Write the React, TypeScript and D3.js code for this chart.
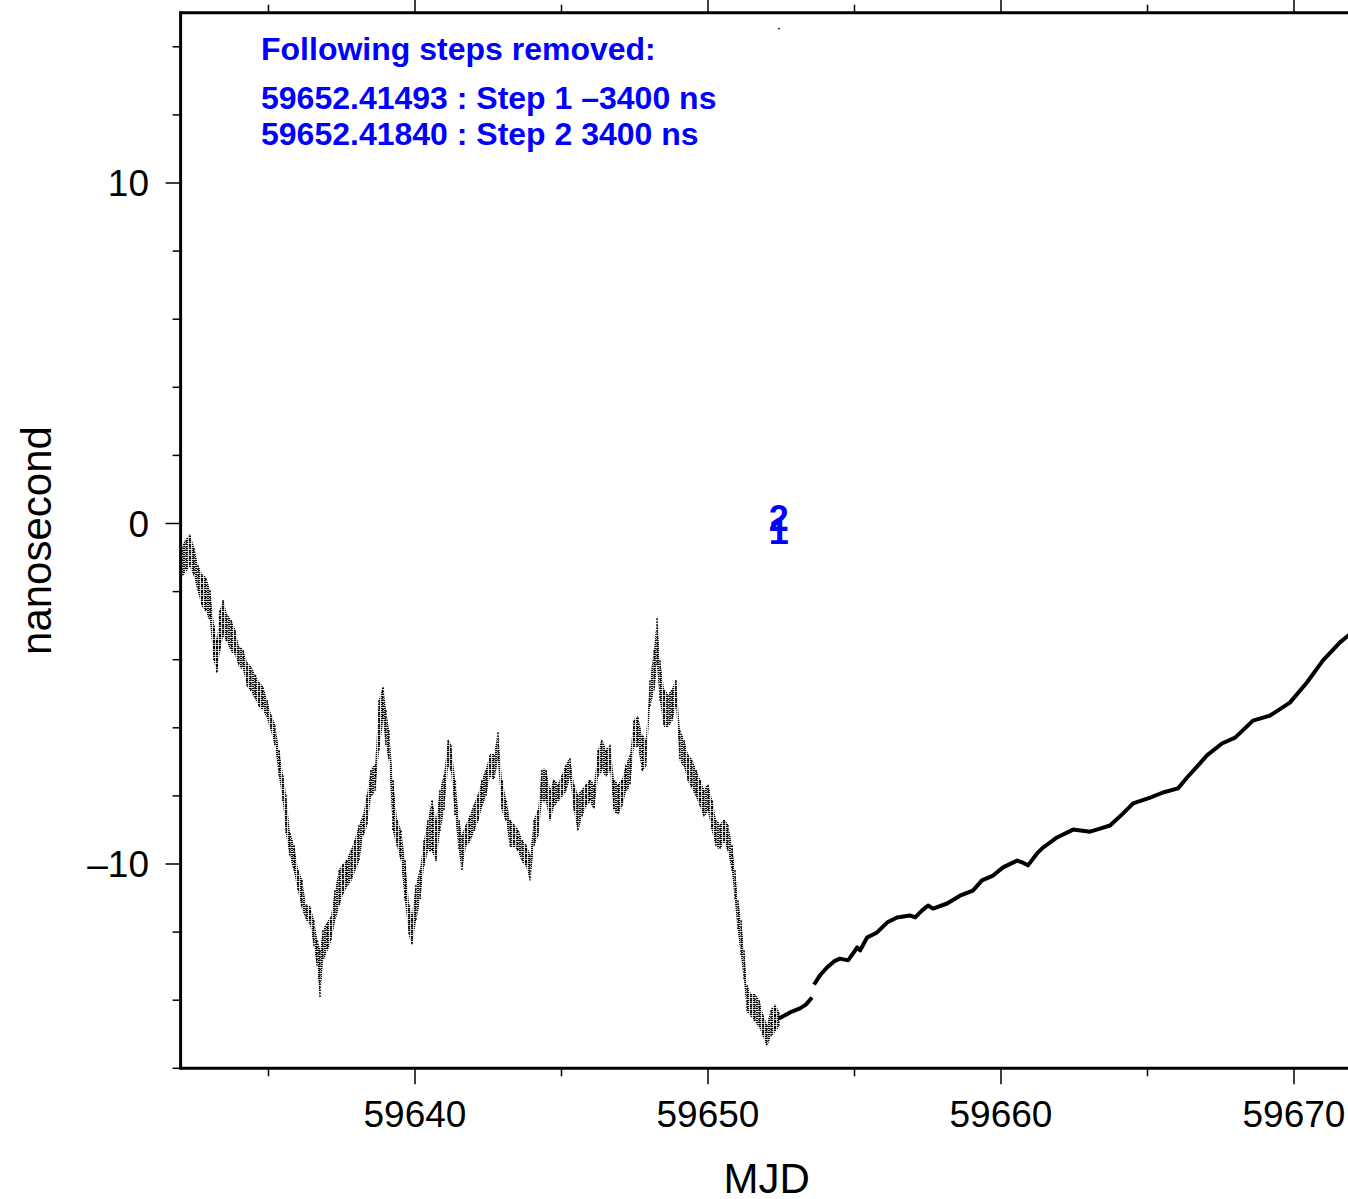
// @ts-nocheck
import React, { useEffect, useRef } from 'react'
import * as d3 from 'd3'

// noisy clock offset before the steps: sample MJD, upper and lower edge of the point cloud (ns)
const noisyMjd = [
    59632.05, 59632.18, 59632.32, 59632.46, 59632.59, 59632.73, 59632.87, 59633.00, 59633.14, 59633.24,
    59633.34, 59633.45, 59633.58, 59633.72, 59633.86, 59633.99, 59634.13, 59634.27, 59634.40, 59634.54,
    59634.68, 59634.81, 59634.95, 59635.09, 59635.22, 59635.36, 59635.49, 59635.60, 59635.73, 59635.87,
    59636.01, 59636.14, 59636.28, 59636.42, 59636.55, 59636.66, 59636.76, 59636.86, 59637.00, 59637.13,
    59637.27, 59637.41, 59637.54, 59637.68, 59637.82, 59637.95, 59638.09, 59638.23, 59638.36, 59638.50,
    59638.64, 59638.77, 59638.91, 59639.01, 59639.11, 59639.25, 59639.39, 59639.52, 59639.66, 59639.80,
    59639.90, 59640.03, 59640.17, 59640.31, 59640.44, 59640.58, 59640.72, 59640.85, 59640.99, 59641.13,
    59641.23, 59641.37, 59641.50, 59641.60, 59641.74, 59641.88, 59642.01, 59642.15, 59642.29, 59642.42,
    59642.56, 59642.70, 59642.83, 59642.97, 59643.11, 59643.24, 59643.38, 59643.52, 59643.65, 59643.79,
    59643.93, 59644.06, 59644.20, 59644.33, 59644.47, 59644.61, 59644.74, 59644.88, 59645.02, 59645.15,
    59645.29, 59645.43, 59645.56, 59645.70, 59645.84, 59645.97, 59646.11, 59646.25, 59646.38, 59646.52,
    59646.66, 59646.79, 59646.93, 59647.07, 59647.20, 59647.34, 59647.47, 59647.61, 59647.75, 59647.88,
    59648.02, 59648.16, 59648.26, 59648.36, 59648.50, 59648.64, 59648.77, 59648.91, 59649.04, 59649.18,
    59649.32, 59649.45, 59649.59, 59649.73, 59649.86, 59650.00, 59650.14, 59650.27, 59650.41, 59650.55,
    59650.68, 59650.82, 59650.92, 59651.02, 59651.13, 59651.23, 59651.33, 59651.47, 59651.60, 59651.74,
    59651.88, 59652.01, 59652.15, 59652.29, 59652.42
]
const noisyHi = [
    -0.70, -0.50, -0.35, -0.73, -1.23, -1.53, -1.62, -1.97, -3.00, -3.44,
    -2.56, -2.26, -2.70, -2.85, -3.14, -3.64, -3.73, -4.11, -4.23, -4.46,
    -4.70, -4.82, -5.20, -5.64, -5.93, -6.67, -7.40, -7.99, -9.10, -9.46,
    -10.19, -10.48, -11.22, -11.28, -11.66, -12.25, -12.54, -11.95, -11.75, -11.57,
    -10.78, -10.19, -10.04, -9.90, -9.60, -9.31, -8.87, -8.58, -7.99, -7.25,
    -7.11, -5.20, -4.82, -5.49, -6.08, -7.55, -8.72, -9.02, -9.90, -11.22,
    -11.51, -10.63, -10.19, -9.31, -8.72, -8.14, -8.72, -7.84, -7.40, -6.37,
    -6.52, -7.55, -8.72, -9.16, -8.87, -8.58, -8.28, -7.99, -7.55, -7.25,
    -6.81, -6.81, -6.14, -7.55, -8.14, -8.72, -8.87, -9.02, -9.31, -9.46,
    -9.75, -8.72, -8.43, -7.25, -7.25, -7.84, -7.55, -7.69, -7.40, -7.11,
    -6.90, -7.69, -7.99, -7.84, -7.69, -7.55, -7.69, -6.67, -6.37, -6.67,
    -6.52, -7.55, -7.69, -7.55, -7.11, -6.81, -5.79, -5.70, -6.23, -6.37,
    -4.61, -3.73, -2.79, -4.02, -4.90, -5.05, -4.90, -4.61, -6.08, -6.37,
    -6.81, -6.96, -7.25, -7.55, -7.84, -7.69, -8.14, -8.72, -8.87, -8.72,
    -8.87, -9.46, -10.19, -11.07, -11.66, -12.54, -13.57, -13.86, -13.86, -14.01,
    -14.45, -14.74, -14.30, -14.16, -14.36
]
const noisyLo = [
    -1.53, -1.38, -1.23, -1.53, -1.97, -2.41, -2.56, -2.85, -4.02, -4.38,
    -3.73, -3.29, -3.44, -3.73, -3.82, -4.17, -4.26, -4.76, -4.90, -5.11,
    -5.35, -5.43, -5.70, -6.08, -6.52, -7.40, -8.14, -9.10, -9.75, -10.19,
    -10.78, -11.28, -11.60, -11.75, -12.39, -12.98, -13.92, -12.83, -12.54, -12.25,
    -11.66, -11.22, -10.87, -10.63, -10.48, -10.19, -9.90, -9.16, -8.87, -7.99,
    -7.84, -6.67, -5.79, -6.52, -6.96, -9.02, -9.46, -9.90, -11.07, -12.10,
    -12.34, -11.66, -11.07, -10.04, -9.60, -9.60, -9.90, -9.02, -8.43, -7.11,
    -7.25, -8.58, -9.60, -10.19, -9.46, -9.31, -9.02, -8.72, -8.28, -7.99,
    -7.40, -7.49, -6.96, -8.43, -8.72, -9.46, -9.46, -9.60, -9.90, -10.04,
    -10.48, -9.46, -9.16, -8.14, -8.14, -8.72, -8.28, -8.14, -7.99, -7.84,
    -7.46, -8.43, -9.02, -8.58, -8.28, -8.14, -8.37, -7.40, -7.25, -7.40,
    -7.25, -8.43, -8.52, -8.28, -7.84, -7.69, -6.52, -6.52, -7.25, -7.11,
    -5.35, -4.90, -4.17, -5.20, -5.93, -5.93, -5.79, -5.35, -6.96, -7.11,
    -7.55, -7.75, -7.99, -8.28, -8.58, -8.43, -9.02, -9.46, -9.54, -9.31,
    -9.60, -10.19, -11.07, -11.95, -12.69, -13.42, -14.30, -14.45, -14.60, -14.74,
    -15.04, -15.33, -15.04, -14.89, -14.74
]

// smooth part after the steps, two pieces
const segAMjd = [59652.42, 59652.80, 59653.14, 59653.34, 59653.55]
const segANs = [-14.54, -14.36, -14.24, -14.13, -13.92]
const segBMjd = [
    59653.62, 59653.82, 59654.06, 59654.30, 59654.50, 59654.78, 59654.95, 59655.09, 59655.19, 59655.43,
    59655.77, 59656.11, 59656.45, 59656.89, 59657.07, 59657.30, 59657.51, 59657.68, 59658.16, 59658.60,
    59659.04, 59659.35, 59659.73, 59660.07, 59660.55, 59660.75, 59660.92, 59661.23, 59661.43, 59661.67,
    59661.91, 59662.46, 59663.04, 59663.38, 59663.72, 59664.16, 59664.51, 59665.09, 59665.53, 59666.04,
    59666.35, 59666.69, 59667.03, 59667.54, 59667.99, 59668.60, 59669.18, 59669.86, 59670.44, 59670.99,
    59671.57, 59671.98
]
const segBNs = [
    -13.54, -13.27, -13.04, -12.86, -12.78, -12.83, -12.63, -12.45, -12.54, -12.16,
    -12.01, -11.72, -11.57, -11.51, -11.57, -11.37, -11.22, -11.31, -11.16, -10.93,
    -10.78, -10.48, -10.34, -10.10, -9.90, -9.96, -10.04, -9.69, -9.52, -9.37,
    -9.22, -8.99, -9.05, -8.96, -8.87, -8.52, -8.22, -8.05, -7.90, -7.78,
    -7.46, -7.14, -6.81, -6.46, -6.29, -5.79, -5.64, -5.26, -4.67, -4.02,
    -3.49, -3.20
]

// stray point near the top
const outlierMjd = [59652.42]
const outlierNs = [14.54]

const stepMjd = [59652.41493, 59652.41840]
const stepLabels = ['1', '2']
const noteLines = [
    'Following steps removed:',
    '59652.41493 : Step 1 \u20133400 ns',
    '59652.41840 : Step 2 3400 ns'
]

const xMajor = [59640, 59650, 59660, 59670]
const xMajorLabels = ['59640', '59650', '59660', '59670']
const xMinor = [59635, 59645, 59655, 59665]
const yMajor = [-10, 0, 10]
const yMajorLabels = ['\u201310', '0', '10']
const yMinor = [-16, -14, -12, -8, -6, -4, -2, 2, 4, 6, 8, 12, 14]

const FONT = '"Liberation Sans", Arial, Helvetica, sans-serif'

export const App = () => {
    const ref = useRef(null)

    useEffect(() => {
        document.body.style.margin = '0'

        const width = 1348,
            height = 1199

        const x = d3.scaleLinear([59632, 59672], [180.6, 1352.6])
        const y = d3.scaleLinear([-16, 15], [1068.3, 12.75])
        const [x0, x1] = x.range()
        const [yb, yt] = y.range()

        const svg = d3.select(ref.current)
            .attr('width', width)
            .attr('height', height)
        svg.selectAll('*').remove()

        const defs = svg.append('defs')
        defs.append('clipPath').attr('id', 'plot')
            .append('rect')
            .attr('x', x0).attr('y', yt)
            .attr('width', x1 - x0).attr('height', yb - yt)

        // little dashes, like the plotted dots
        const pat = defs.append('pattern')
            .attr('id', 'dots')
            .attr('patternUnits', 'userSpaceOnUse')
            .attr('width', 3).attr('height', 2)
        pat.append('rect').attr('width', 2.2).attr('height', 1.2).attr('fill', '#000')

        const plot = svg.append('g').attr('clip-path', 'url(#plot)')

        // noisy cloud: dotted band between the upper and lower edges
        const cloud = noisyMjd.map((m, i) => [m, noisyHi[i], noisyLo[i]])
        const area = d3.area()
            .x(d => x(d[0]))
            .y0(d => y(d[2]) + 1.5)
            .y1(d => y(d[1]) - 1.5)
        plot.append('path')
            .attr('fill', 'url(#dots)')
            .attr('d', area(cloud))

        // plus a dashed column at every sample
        plot.append('g')
            .selectAll('line')
            .data(cloud)
            .join('line')
            .attr('x1', d => x(d[0]))
            .attr('x2', d => x(d[0]))
            .attr('y1', d => y(d[1]))
            .attr('y2', d => y(d[2]))
            .attr('stroke', '#000')
            .attr('stroke-width', 2)
            .attr('stroke-dasharray', '1.3 1.7')

        // smooth line
        const line = d3.line()
            .x(d => x(d[0]))
            .y(d => y(d[1]))
        plot.append('path')
            .attr('fill', 'none')
            .attr('stroke', '#000')
            .attr('stroke-width', 4)
            .attr('stroke-linejoin', 'round')
            .attr('d', line(segAMjd.map((m, i) => [m, segANs[i]])))
        plot.append('path')
            .attr('fill', 'none')
            .attr('stroke', '#000')
            .attr('stroke-width', 4)
            .attr('stroke-linejoin', 'round')
            .attr('d', line(segBMjd.map((m, i) => [m, segBNs[i]])))

        plot.selectAll('rect.outlier')
            .data(outlierMjd)
            .join('rect')
            .attr('class', 'outlier')
            .attr('x', d => x(d) - 1)
            .attr('y', (d, i) => y(outlierNs[i]) - 0.5)
            .attr('width', 2).attr('height', 1.5)
            .attr('fill', '#333')

        // step markers
        svg.selectAll('text.step')
            .data(stepMjd)
            .join('text')
            .attr('class', 'step')
            .attr('x', d => x(d))
            .attr('y', y(0))
            .attr('dy', (d, i) => i === 0 ? 20 : 7)
            .attr('text-anchor', 'middle')
            .attr('font-family', FONT)
            .attr('font-weight', 'bold')
            .attr('font-size', 36)
            .attr('fill', '#0000ff')
            .text((d, i) => stepLabels[i])

        // note
        const noteY = [60, 109, 145]
        svg.selectAll('text.note')
            .data(noteLines)
            .join('text')
            .attr('class', 'note')
            .attr('x', 261)
            .attr('y', (d, i) => noteY[i])
            .attr('font-family', FONT)
            .attr('font-weight', 'bold')
            .attr('font-size', 32)
            .attr('fill', '#0000ff')
            .text(d => d)

        // frame
        const frame = svg.append('g').attr('stroke', '#000').attr('fill', 'none')
        frame.append('line').attr('x1', x0).attr('x2', x0).attr('y1', yt - 1.5).attr('y2', yb + 1.5).attr('stroke-width', 3)
        frame.append('line').attr('x1', x0).attr('x2', x1).attr('y1', yb).attr('y2', yb).attr('stroke-width', 3)
        frame.append('line').attr('x1', x0).attr('x2', x1).attr('y1', yt).attr('y2', yt).attr('stroke-width', 3)
        frame.append('line').attr('x1', x1).attr('x2', x1).attr('y1', yt).attr('y2', yb).attr('stroke-width', 3)

        // y ticks
        const ticks = svg.append('g').attr('stroke', '#000').attr('stroke-width', 1.5)
        yMajor.forEach(v => {
            ticks.append('line').attr('x1', x0 - 15).attr('x2', x0).attr('y1', y(v)).attr('y2', y(v))
        })
        yMinor.forEach(v => {
            ticks.append('line').attr('x1', x0 - 8).attr('x2', x0).attr('y1', y(v)).attr('y2', y(v))
        })
        // x ticks, bottom and top
        xMajor.forEach(v => {
            ticks.append('line').attr('x1', x(v)).attr('x2', x(v)).attr('y1', yb).attr('y2', yb + 16)
            ticks.append('line').attr('x1', x(v)).attr('x2', x(v)).attr('y1', yt).attr('y2', yt - 16)
        })
        xMinor.forEach(v => {
            ticks.append('line').attr('x1', x(v)).attr('x2', x(v)).attr('y1', yb).attr('y2', yb + 8)
            ticks.append('line').attr('x1', x(v)).attr('x2', x(v)).attr('y1', yt).attr('y2', yt - 8)
        })

        svg.selectAll('text.ylab')
            .data(yMajor)
            .join('text')
            .attr('class', 'ylab')
            .attr('x', 149)
            .attr('y', d => y(d) + 13)
            .attr('text-anchor', 'end')
            .attr('font-family', FONT)
            .attr('font-size', 37)
            .text((d, i) => yMajorLabels[i])

        svg.selectAll('text.xlab')
            .data(xMajor)
            .join('text')
            .attr('class', 'xlab')
            .attr('x', d => x(d))
            .attr('y', 1127)
            .attr('text-anchor', 'middle')
            .attr('font-family', FONT)
            .attr('font-size', 37)
            .text((d, i) => xMajorLabels[i])

        svg.append('text')
            .attr('x', (x0 + x1) / 2)
            .attr('y', 1193)
            .attr('text-anchor', 'middle')
            .attr('font-family', FONT)
            .attr('font-size', 42)
            .text('MJD')

        svg.append('text')
            .attr('transform', `translate(51, ${(yt + yb) / 2}) rotate(-90)`)
            .attr('text-anchor', 'middle')
            .attr('font-family', FONT)
            .attr('font-size', 42)
            .text('nanosecond')
    }, [])

    return <svg ref={ref} width='1348' height='1199' style={{ display: 'block' }}></svg>
}

export default App
